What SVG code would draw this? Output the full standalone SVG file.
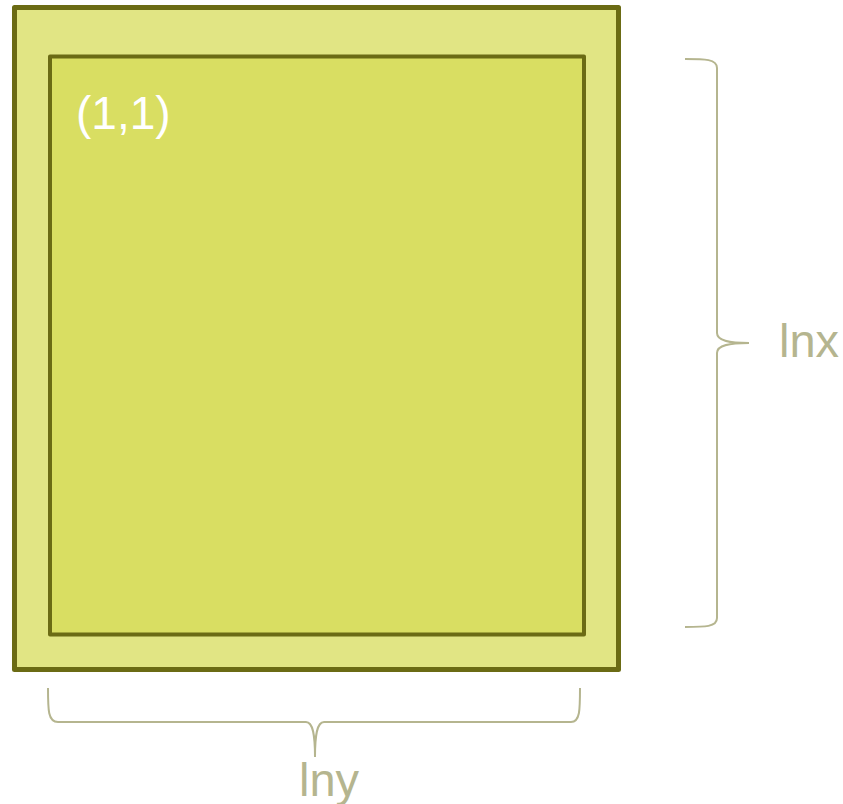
<svg xmlns="http://www.w3.org/2000/svg" width="843" height="804" viewBox="0 0 843 804">
<style>
.box{stroke:#6b6b14;stroke-linejoin:round}
.brace{fill:none;stroke:#b5b58f;stroke-width:2}
.lbl{font-family:"Liberation Sans",Arial,sans-serif;font-size:47px;fill:#b5b58f}
.w{font-family:"Liberation Sans",Arial,sans-serif;font-size:46px;fill:#ffffff}
</style>
<rect width="843" height="804" fill="#ffffff"/>
<g id="outer">
<rect class="box" x="14.5" y="7.5" width="604" height="662" fill="#e1e584" stroke-width="5"/>
</g>
<g id="inner">
<rect class="box" x="50" y="56.5" width="534" height="578" fill="#d9de62" stroke-width="4"/>
<text class="w" x="76" y="129">(1,1)</text>
</g>
<g id="connectors">
<path class="brace" d="M685,59 C705,59 717,59 717,68 L717,333 C717,341 730,343 749,343 C730,343 717,345 717,353 L717,618 C717,627 705,627 685,627"/>
<path class="brace" d="M48,688 C48,710 48,722 58,722 L306,722 C313,722 315,735 315,757 C315,735 317,722 324,722 L571,722 C580,722 580,710 580,688"/>
</g>
<g id="labels">
<text class="lbl" x="779" y="357">lnx</text>
<text class="lbl" x="299" y="796">lny</text>
</g>
</svg>
